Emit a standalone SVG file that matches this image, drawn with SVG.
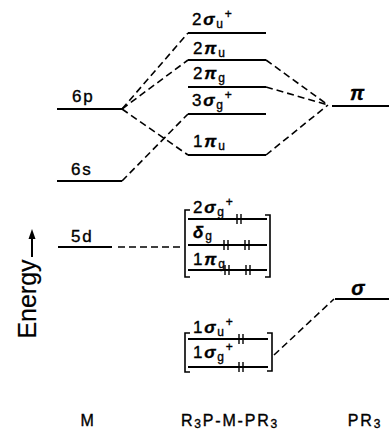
<svg xmlns="http://www.w3.org/2000/svg" width="389" height="431" viewBox="0 0 389 431">
<style>
text{font-family:"Liberation Sans",Arial,sans-serif;fill:#000;stroke:#000;stroke-width:0.35px}
.lv{stroke:#000;stroke-width:2;fill:none}
.lbl{font-size:17px;letter-spacing:1.8px}
.sub{font-size:12px}
.g{font-style:italic;font-weight:bold}
.dash{stroke:#000;stroke-width:1.6;fill:none;stroke-dasharray:7 4}
.br{stroke:#000;stroke-width:1.6;fill:none}
.e{stroke:#000;stroke-width:1.4}
.ax{font-size:16px;letter-spacing:1.8px}
</style>
<g id="connectors">
<path class="dash" d="M122 109 L188 33"/>
<path class="dash" d="M122 109 L188 60"/>
<path class="dash" d="M122 109 L188 155"/>
<path class="dash" d="M122 181 L188 114"/>
<path class="dash" d="M266 60 L328 105"/>
<path class="dash" d="M266 87 L328 105"/>
<path class="dash" d="M266 155 L328 105"/>
<path class="dash" d="M118 247 L184 247"/>
<path class="dash" d="M274 355 L334 299"/>
</g>
<g id="energy-axis">
<line x1="32" y1="257" x2="32" y2="237" stroke="#000" stroke-width="2"/>
<polygon points="32,229 28.5,239 35.5,239" fill="#000"/>
<text transform="translate(36,299) rotate(-90)" text-anchor="middle" font-size="25" style="stroke-width:0.2px">Energy</text>
</g>
<g id="M-6p">
<line class="lv" x1="57" y1="109" x2="122" y2="109"/>
<text class="lbl" x="72" y="102">6p</text>
</g>
<g id="M-6s">
<line class="lv" x1="57" y1="181" x2="122" y2="181"/>
<text class="lbl" x="71" y="175">6s</text>
</g>
<g id="M-5d">
<line class="lv" x1="58" y1="247" x2="112" y2="247"/>
<text class="lbl" x="71" y="242">5d</text>
</g>
<g id="L-2su">
<line class="lv" x1="188" y1="33" x2="266" y2="33"/>
<text class="lbl" x="192" y="25">2<tspan class="g">σ</tspan><tspan class="sub" dy="3">u</tspan><tspan class="sub" dy="-10">+</tspan></text>
</g>
<g id="L-2pu">
<line class="lv" x1="188" y1="60" x2="266" y2="60"/>
<text class="lbl" x="193" y="54">2<tspan class="g">π</tspan><tspan class="sub" dy="3">u</tspan></text>
</g>
<g id="L-2pg">
<line class="lv" x1="188" y1="87" x2="266" y2="87"/>
<text class="lbl" x="193" y="79">2<tspan class="g">π</tspan><tspan class="sub" dy="3">g</tspan></text>
</g>
<g id="L-3sg">
<line class="lv" x1="188" y1="114" x2="266" y2="114"/>
<text class="lbl" x="192" y="106">3<tspan class="g">σ</tspan><tspan class="sub" dy="3">g</tspan><tspan class="sub" dy="-10">+</tspan></text>
</g>
<g id="L-1pu">
<line class="lv" x1="188" y1="155" x2="266" y2="155"/>
<text class="lbl" x="193" y="147">1<tspan class="g">π</tspan><tspan class="sub" dy="3">u</tspan></text>
</g>
<g id="bracket-d">
<path class="br" d="M190 210 H185 V277 H190"/>
<path class="br" d="M265 215 H270 V277 H265"/>
</g>
<g id="L-2sg">
<line class="lv" x1="188" y1="219" x2="267" y2="219"/>
<line class="e" x1="237" y1="214" x2="237" y2="224"/><line class="e" x1="241" y1="214" x2="241" y2="224"/>
<text class="lbl" x="193" y="213">2<tspan class="g">σ</tspan><tspan class="sub" dy="3">g</tspan><tspan class="sub" dy="-10">+</tspan></text>
</g>
<g id="L-dg">
<line class="lv" x1="188" y1="245" x2="267" y2="245"/>
<line class="e" x1="224" y1="240" x2="224" y2="250"/><line class="e" x1="228" y1="240" x2="228" y2="250"/>
<line class="e" x1="245" y1="240" x2="245" y2="250"/><line class="e" x1="249" y1="240" x2="249" y2="250"/>
<text class="lbl" x="193" y="238"><tspan class="g">δ</tspan><tspan class="sub" dy="2">g</tspan></text>
</g>
<g id="L-1pg">
<line class="lv" x1="188" y1="270" x2="267" y2="270"/>
<line class="e" x1="225" y1="265" x2="225" y2="275"/><line class="e" x1="229" y1="265" x2="229" y2="275"/>
<line class="e" x1="246" y1="265" x2="246" y2="275"/><line class="e" x1="250" y1="265" x2="250" y2="275"/>
<text class="lbl" x="193" y="265">1<tspan class="g">π</tspan><tspan class="sub" dy="3">g</tspan></text>
</g>
<g id="bracket-s">
<path class="br" d="M190 333 H185 V372 H190"/>
<path class="br" d="M267 333 H272 V371 H267"/>
</g>
<g id="L-1su">
<line class="lv" x1="188" y1="339" x2="268" y2="339"/>
<line class="e" x1="239" y1="334" x2="239" y2="344"/><line class="e" x1="243" y1="334" x2="243" y2="344"/>
<text class="lbl" x="193" y="333">1<tspan class="g">σ</tspan><tspan class="sub" dy="3">u</tspan><tspan class="sub" dy="-10">+</tspan></text>
</g>
<g id="L-1sg">
<line class="lv" x1="188" y1="367" x2="268" y2="367"/>
<line class="e" x1="239" y1="362" x2="239" y2="372"/><line class="e" x1="243" y1="362" x2="243" y2="372"/>
<text class="lbl" x="193" y="358">1<tspan class="g">σ</tspan><tspan class="sub" dy="3">g</tspan><tspan class="sub" dy="-10">+</tspan></text>
</g>
<g id="PR3-pi">
<line class="lv" x1="332" y1="106" x2="389" y2="106"/>
<text x="357" y="100" text-anchor="middle" font-size="20" class="g">π</text>
</g>
<g id="PR3-sigma">
<line class="lv" x1="335" y1="299" x2="389" y2="299"/>
<text x="358" y="295" text-anchor="middle" font-size="20" class="g">σ</text>
</g>
<g id="axis-labels">
<text class="ax" x="88" y="426" text-anchor="middle">M</text>
<text class="ax" x="230" y="426" text-anchor="middle">R<tspan font-size="12" dy="2">3</tspan><tspan dy="-2">P-M-PR</tspan><tspan font-size="12" dy="2">3</tspan></text>
<text class="ax" x="365" y="426" text-anchor="middle">PR<tspan font-size="12" dy="2">3</tspan></text>
</g>
</svg>
